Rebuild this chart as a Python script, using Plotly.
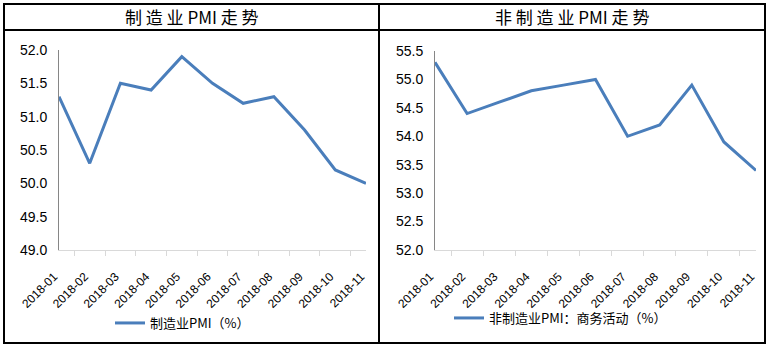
import plotly.graph_objects as go

W, H = 773, 348

months = ["2018-01", "2018-02", "2018-03", "2018-04", "2018-05", "2018-06",
          "2018-07", "2018-08", "2018-09", "2018-10", "2018-11"]
mfg_pmi = [51.3, 50.3, 51.5, 51.4, 51.9, 51.5, 51.2, 51.3, 50.8, 50.2, 50.0]
non_mfg_pmi = [55.3, 54.4, 54.6, 54.8, 54.9, 55.0, 54.0, 54.2, 54.9, 53.9, 53.4]

titles = ["制 造 业 PMI 走 势", "非 制 造 业 PMI 走 势"]
series_names = ["制造业PMI（%）", "非制造业PMI：商务活动（%）"]

LINE = "#4a7ebb"
CJK = "Noto Sans CJK SC, Liberation Sans, sans-serif"
NUM = "Liberation Sans, Arial, sans-serif"


def px_x(v):
    return v / W


def px_y(v):
    return 1 - v / H


fig = go.Figure()
fig.add_trace(go.Scatter(x=months, y=mfg_pmi, mode="lines", name=series_names[0],
                         line=dict(color=LINE, width=3), xaxis="x", yaxis="y",
                         legend="legend"))
fig.add_trace(go.Scatter(x=months, y=non_mfg_pmi, mode="lines", name=series_names[1],
                         line=dict(color=LINE, width=3), xaxis="x2", yaxis="y2",
                         legend="legend2"))

xcommon = dict(type="category", showline=True, linecolor="#d9d9d9", linewidth=1,
               ticks="outside", tickson="boundaries", ticklen=5, tickcolor="#d9d9d9",
               tickangle=-45, ticklabelstandoff=14, ticklabelshift=-5,
               tickfont=dict(family=NUM, size=12, color="#000000"),
               showgrid=False, zeroline=False, fixedrange=True, automargin=False)
ycommon = dict(showline=True, linecolor="#868686", linewidth=1, showgrid=False,
               zeroline=False, dtick=0.5, tickformat=".1f", ticks="",
               ticklabelstandoff=8,
               tickfont=dict(family=NUM, size=14, color="#000000"), fixedrange=True,
               automargin=False)

fig.update_layout(
    template="none",
    width=W, height=H, autosize=False,
    margin=dict(l=0, r=0, t=0, b=0, pad=0),
    paper_bgcolor="white", plot_bgcolor="white",
    xaxis=dict(domain=[px_x(59), px_x(366)], anchor="y", **xcommon),
    yaxis=dict(domain=[px_y(250), px_y(50)], anchor="x", range=[49, 52], **ycommon),
    xaxis2=dict(domain=[px_x(435), px_x(756)], anchor="y2", **xcommon),
    yaxis2=dict(domain=[px_y(250), px_y(51)], anchor="x2", range=[52, 55.5], **ycommon),
    legend=dict(x=px_x(110), y=px_y(323), xanchor="left", yanchor="middle",
                font=dict(family=CJK, size=13, color="#000000"), bgcolor="rgba(0,0,0,0)"),
    legend2=dict(x=px_x(449), y=px_y(318), xanchor="left", yanchor="middle",
                 font=dict(family=CJK, size=13, color="#000000"), bgcolor="rgba(0,0,0,0)"),
    showlegend=True,
)

# Panel titles
for cx, text in zip([191.5, 572], titles):
    fig.add_annotation(x=px_x(cx), y=px_y(17), xref="paper", yref="paper",
                       xanchor="center", yanchor="middle",
                       text=text, showarrow=False,
                       font=dict(family=CJK, size=17, color="#000000"))

# Frame: outer box, title row separator and middle divider
frame = dict(color="#000000", width=2)
fig.add_shape(type="rect", xref="paper", yref="paper",
              x0=px_x(4), x1=px_x(765), y0=px_y(343), y1=px_y(4), line=frame)
fig.add_shape(type="line", xref="paper", yref="paper",
              x0=px_x(4), x1=px_x(765), y0=px_y(30), y1=px_y(30), line=frame)
fig.add_shape(type="line", xref="paper", yref="paper",
              x0=px_x(379), x1=px_x(379), y0=px_y(343), y1=px_y(4), line=frame)

fig.write_html("out.html")
